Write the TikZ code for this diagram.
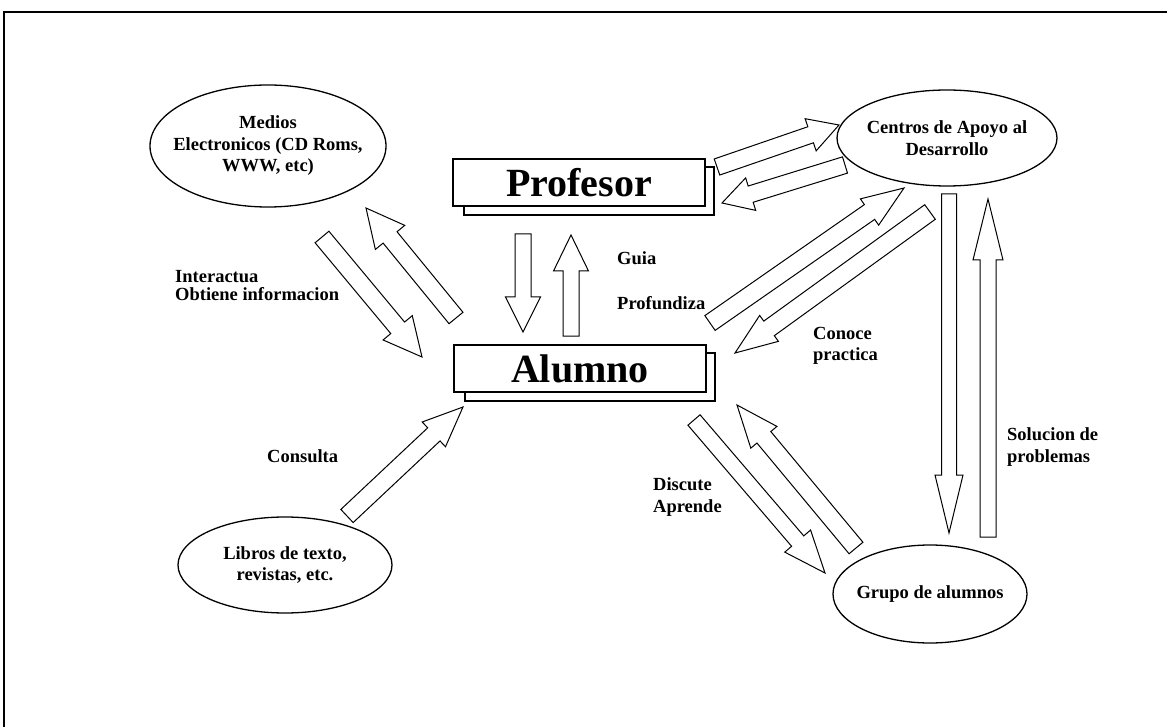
\documentclass[tikz,border=0pt]{standalone}
\usepackage{fontspec}
\setmainfont{Liberation Serif}
\usetikzlibrary{calc,shapes.geometric}

\newcommand{\lblfont}{\fontsize{18.5}{21.5}\selectfont\bfseries}
\newcommand{\boxfont}{\fontsize{40}{40}\selectfont\bfseries}

% hollow block arrow: tail, tip, shaft half-width, head half-width, head length
\newcommand{\blockarrow}[5]{%
  \path let \p1=($(#2)-(#1)$) in
    \pgfextra{\pgfmathparse{veclen(\x1,\y1)}\xdef\balen{\pgfmathresult}%
              \pgfmathparse{atan2(\y1,\x1)}\xdef\baang{\pgfmathresult}};
  \draw[blockarr, shift={(#1)}, rotate=\baang]
    (0,-#3) -- ({\balen-#5},-#3) -- ({\balen-#5},-#4) -- (\balen,0)
    -- ({\balen-#5},#4) -- ({\balen-#5},#3) -- (0,#3) -- cycle;
}

\tikzset{
  frame/.style={line width=1.5pt, line cap=rect},
  bubble/.style={draw, ellipse, line width=1.3pt, inner xsep=-25pt, inner ysep=-10pt,
                 align=center, font=\lblfont},
  boxfr/.style={draw, fill=white, line width=1.6pt, minimum width=252pt, minimum height=47pt, inner sep=0pt, font=\boxfont},
  boxsh/.style={draw, fill=white, line width=1.6pt, minimum width=250pt, minimum height=48pt, inner sep=0pt},
  lbl/.style={inner sep=0pt, anchor=west, align=left, font=\lblfont},
  blockarr/.style={draw, line width=1pt, line join=miter},
}

\begin{document}
\begin{tikzpicture}[x=1pt,y=-1pt]
\useasboundingbox (0,0) rectangle (1167,727);

% outer frame (top and left edges)
\draw[frame] (1167,12) -- (4,12) -- (4,727);

% central boxes with offset shadows
\node[boxsh] (profsh) at (589,191) {};
\node[boxfr] (profesor) at (579,182.5) {Profesor};
\node[boxsh] (alumsh) at (590,377) {};
\node[boxfr] (alumno) at (580,368.5) {Alumno};

% surrounding ellipses
\node[bubble, minimum width=236pt, minimum height=122pt] (medios) at (268,146)
  {Medios\\Electronicos (CD Roms,\\WWW, etc)};
\node[bubble, minimum width=220pt, minimum height=96pt] (centros) at (947,138)
  {Centros de Apoyo al\\Desarrollo};
\node[bubble, minimum width=214pt, minimum height=96pt] (libros) at (285,565)
  {Libros de texto,\\revistas, etc.};
\node[bubble, minimum width=194pt, minimum height=98pt] (grupo) at (930,594)
  {Grupo de alumnos};

% labels
\node[lbl, font=\fontsize{18.5}{18}\selectfont\bfseries] (interactua) at (175,286) {Interactua\\Obtiene informacion};
\node[lbl] (guia) at (617,258) {Guia};
\node[lbl] (profundiza) at (617,303) {Profundiza};
\node[lbl] (conoce) at (813,346) {Conoce\\practica};
\node[lbl] (consulta) at (267,456) {Consulta};
\node[lbl] (discute) at (653,497) {Discute\\Aprende};
\node[lbl] (solucion) at (1007,447) {Solucion de\\problemas};

% arrow end points
\coordinate (pa-t) at (523,234);  \coordinate (pa-h) at (523,332);
\coordinate (ap-t) at (571,336);  \coordinate (ap-h) at (571,235);
\coordinate (am-t) at (456,318);  \coordinate (am-h) at (366,208);
\coordinate (ma-t) at (322,237);  \coordinate (ma-h) at (422,357);
\coordinate (la-t) at (347,516);  \coordinate (la-h) at (463,407);
\coordinate (pc-t) at (717,167);  \coordinate (pc-h) at (839,125);
\coordinate (cp-t) at (845,165);  \coordinate (cp-h) at (722,203);
\coordinate (ac-t) at (710,323);  \coordinate (ac-h) at (904,188);
\coordinate (ca-t) at (930,212);  \coordinate (ca-h) at (735,353);
\coordinate (ag-t) at (694,420);  \coordinate (ag-h) at (825,573);
\coordinate (ga-t) at (856,548);  \coordinate (ga-h) at (737,405);
\coordinate (cg-t) at (949,194);  \coordinate (cg-h) at (949,533);
\coordinate (gc-t) at (988,537);  \coordinate (gc-h) at (988,199);

% block arrows
\blockarrow{pa-t}{pa-h}{8}{17.5}{35}
\blockarrow{ap-t}{ap-h}{8}{17.5}{36}
\blockarrow{am-t}{am-h}{9}{19}{38}
\blockarrow{ma-t}{ma-h}{9}{19}{38}
\blockarrow{la-t}{la-h}{9}{17}{40}
\blockarrow{pc-t}{pc-h}{8.5}{17}{30}
\blockarrow{cp-t}{cp-h}{8.5}{17}{30}
\blockarrow{ac-t}{ac-h}{9}{16}{42}
\blockarrow{ca-t}{ca-h}{9}{16}{42}
\blockarrow{ag-t}{ag-h}{8}{17}{42}
\blockarrow{ga-t}{ga-h}{9}{17}{42}
\blockarrow{cg-t}{cg-h}{7.5}{14}{58}
\blockarrow{gc-t}{gc-h}{8}{15}{61}
\end{tikzpicture}
\end{document}
